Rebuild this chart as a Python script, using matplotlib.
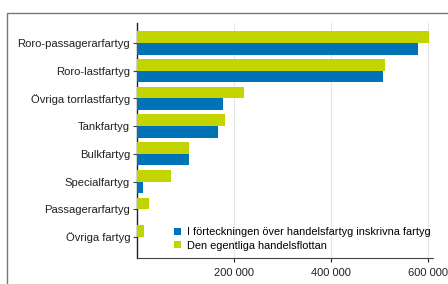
import matplotlib
matplotlib.use("Agg")
import matplotlib.pyplot as plt
from matplotlib.patches import Rectangle
from matplotlib.ticker import FuncFormatter
import numpy as np

plt.rcParams['font.family'] = ['Liberation Sans', 'DejaVu Sans']

# Data
categories = ["Roro-passagerarfartyg", "Roro-lastfartyg", "Övriga torrlastfartyg",
              "Tankfartyg", "Bulkfartyg", "Specialfartyg", "Passagerarfartyg", "Övriga fartyg"]
inskrivna = [579000, 506000, 177000, 166000, 107000, 12000, 500, 0]
handelsflottan = [602000, 511000, 221000, 181000, 107000, 69500, 25000, 15000]
series_labels = ["I förteckningen över handelsfartyg inskrivna fartyg", "Den egentliga handelsflottan"]
xticks = [200000, 400000, 600000]

blue = "#0072B5"
green = "#C3D500"

fig = plt.figure(figsize=(4.48, 2.84), dpi=100)
# outer frame (right/bottom edges fall outside the picture)
fig.patches.append(Rectangle((7 / 448, -0.1), 1.2, 0.954 + 0.1, transform=fig.transFigure,
                             fill=False, edgecolor="#777777", linewidth=1.0))

ax = fig.add_axes([137 / 448, 1 - 258 / 284, (433 - 137) / 448, (258 - 23) / 284])

y = np.arange(len(categories))
h = 0.42
ax.barh(y + h / 2, inskrivna, height=h, color=blue, label=series_labels[0], zorder=3)
ax.barh(y - h / 2, handelsflottan, height=h, color=green, label=series_labels[1], zorder=3)

ax.set_ylim(7.76, -0.72)
ax.set_xlim(0, 610000)
ax.set_yticks(y)
ax.set_yticklabels(categories, fontsize=8.1, color="#222222")
ax.set_xticks(xticks)
ax.xaxis.set_major_formatter(FuncFormatter(lambda v, p: f"{int(v):,}".replace(",", " ")))
ax.tick_params(axis='x', labelsize=8, colors="#222222", length=3, pad=4)
ax.tick_params(axis='y', length=3, pad=2, color="#444444")
ax.grid(axis='x', color="#e6e6e6", linewidth=0.8, zorder=0)

for s in ['top', 'right']:
    ax.spines[s].set_visible(False)
ax.spines['left'].set_color("#222222")
ax.spines['bottom'].set_color("#444444")
ax.spines['left'].set_linewidth(1.0)
ax.spines['bottom'].set_linewidth(0.8)

leg = ax.legend(loc="lower left", bbox_to_anchor=(0.105, 0.008), frameon=False, fontsize=7.9,
                handlelength=0.65, handleheight=0.65, handletextpad=0.6, labelspacing=0.3,
                borderpad=0)

fig.savefig("out.png", dpi=100)
